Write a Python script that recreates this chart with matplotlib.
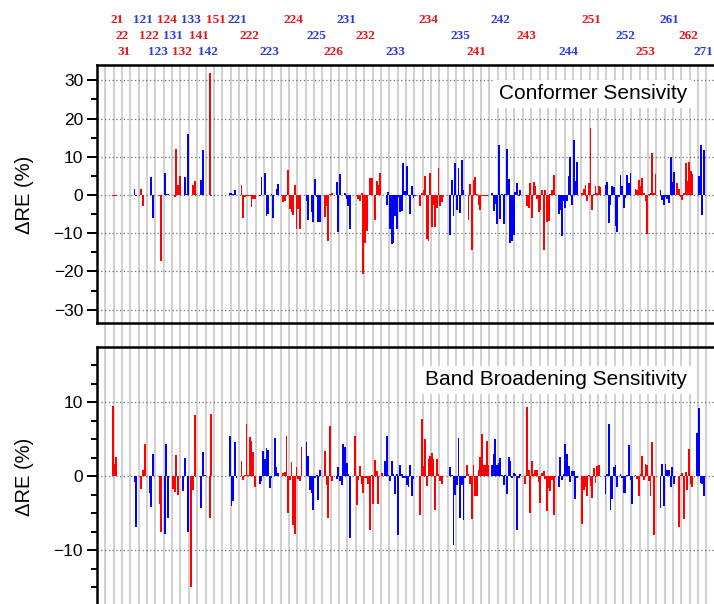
""" Conformer and band broadening sensitivity, two stacked bar panels """

import matplotlib.pyplot as plt
from matplotlib.transforms import blended_transform_factory

plt.rcParams["font.family"] = ["Liberation Sans", "DejaVu Sans"]

RED = "#ff0000"
BLUE = "#0000ff"

# one entry per run of bars of the same colour (21, 22 and 31 share the first run)
run_colors = ["r", "b", "r", "b", "r", "b", "r", "b", "r", "b", "r", "b",
              "r", "b", "r", "b", "r", "b", "r", "b", "r", "b", "r", "b",
              "r", "b", "r", "b", "r", "b", "r", "b"]

conf_start = [9, 22, 26, 32, 37, 40, 46, 52, 57, 62, 67, 79,
              86, 97, 111, 125, 136, 143, 155, 173, 193, 211, 222, 236,
              257, 276, 290, 304, 322, 337, 347, 360]
conf_vals = [
    [-0.2, -0.2, -0.2],
    [1.6, -0.2],
    [1.6, -3.0],
    [4.8, -5.9],
    [-0.3, -17.4],
    [5.8, 0.3, 0.3],
    [-0.5, 12.1, 2.5, 5.0],
    [4.8, 0.2, 15.9],
    [2.7, 3.7, 0.3],
    [4.0, 11.8],
    [31.8, -0.2],
    [0.4, 0.4, 0.3, 1.2],
    [2.7, -6.0, -0.6, -0.3, -0.3, -0.3, -3.2, -1.0, -1.0],
    [-0.3, 4.6, 0.0, 5.8, -5.5, -5.0, 0.0, 0.2, -6.0, 0.0, 1.5, 2.8],
    [-1.8, -1.5, -0.3, 6.6, -3.8, -4.5, -5.2, 2.5, -8.8, -3.8, -8.8],
    [-1.6, -6.5, 0.0, -4.5, -7.0, 4.2, -0.5, -7.2, -7.2],
    [-5.8, -3.0, -12.0, 0.3, 0.5],
    [3.4, -9.6, 5.4, 0.0, 0.0, 0.5, -1.0, -3.0, -8.8],
    [-0.3, -1.0, -1.5, 0.5, -20.8, -12.5, -9.5, 0.0, 4.4, 4.4, 0.0, -6.5,
     3.6, 2.6, 5.8],
    [-2.7, 0.8, -9.0, -12.8, -12.6, -5.5, -8.9, -0.5, -4.5, -4.1, 8.3, 1.0,
     7.5, -0.3, -5.0, 2.4, -0.8, -0.3],
    [-3.0, 0.6, 1.2, 5.0, -11.6, -12.0, 5.8, -8.3, -2.7, -8.5, -3.5, 7.0,
     -3.0, -1.8, -0.5],
    [-10.4, 3.9, -5.5, 8.4, -4.0, 7.1, -4.6, 9.2, 1.2],
    [-6.5, 2.8, -14.5, 3.8, 4.8, 0.3, -2.5, -4.0, -0.2, -0.2, -0.2, -0.2],
    [0.6, -4.3, -2.3, -7.7, 13.2, -6.3, 0.3, -7.5, 0.2, 11.9, 4.1, -12.7,
     -12.0, -10.5, 0.8, 3.2, -0.4, 1.4],
    [-2.8, -3.4, 3.0, -6.0, 3.3, 2.4, -1.0, -4.5, -4.0, 1.2, -14.5, 1.4,
     -7.2, -6.7, 0.2, 1.4, 5.2],
    [-5.0, -4.0, -10.8, -1.5, -3.3, -1.5, 4.9, 9.8, -2.5, 14.5, 3.7, 8.6],
    [0.6, 1.6, 2.5, -1.7, 3.0, 17.4, -4.0, 0.3, 2.3, 0.5, 2.4, 2.2],
    [2.7, 3.5, -7.3, -2.5, 2.4, 2.2, -8.0, -9.8, -0.5, 5.3, 2.4, -3.4,
     -0.8, 5.3, 3.2, 5.8],
    [1.5, 1.2, 3.9, 2.4, 4.4, 0.4, -1.5, -10.2, 0.3, 0.5, 11.0, 0.5, 5.6],
    [1.2, -1.2, -2.5, -0.5, -1.0, -2.2, 9.8, 3.4, 6.0],
    [3.2, 1.6, -0.5, -1.2, 0.5, 8.3, 3.7, 8.5, 6.3, 5.5],
    [5.0, 13.2, -5.3, 11.8],
]

band_start = [9, 22, 26, 31, 37, 40, 45, 51, 56, 62, 67, 79,
              86, 97, 111, 125, 136, 143, 154, 172, 193, 211, 221, 236,
              256, 276, 290, 304, 322, 337, 348, 359]
band_vals = [
    [9.5, 1.7, 2.6],
    [-0.8, -6.9],
    [-1.7, 0.8, 4.4],
    [-2.2, -4.2, 3.0],
    [-3.8, -7.5],
    [-7.8, 4.3, -5.7],
    [-1.7, -2.1, 2.9, -2.5],
    [-2.0, 2.5, 0.0, -7.5],
    [-14.9, -1.8, 8.3],
    [-4.3, 3.3, 0.2],
    [-5.7, 8.4],
    [5.5, -4.0, -3.4, 4.6, -0.3],
    [2.0, -0.5, 0.2, 7.0, 0.2, 5.3, 4.8, 3.3, -1.5],
    [-1.0, -0.6, 3.4, 2.3, 3.8, 3.6, -1.6, -0.2, 0.1, 5.2, 1.3, 0.5],
    [0.4, 0.6, 5.4, -5.0, -0.5, 1.9, -6.6, -7.8, 1.2, -0.4, -0.6, 4.0],
    [4.6, 2.8, -1.8, -2.2, -4.6, -0.3, 0.2, -3.2, 0.8],
    [3.4, -1.2, -5.6, 6.8, -0.7],
    [-0.4, 1.3, -0.6, -1.2, 4.4, 4.0, 1.8, 0.3, -8.3],
    [5.5, -3.9, -0.5, 1.4, -1.1, -2.3, -0.2, -0.2, -1.0, -7.2, 0.2, -3.8,
     2.2, 0.7, -3.8, 0.1, 0.4],
    [2.0, 5.4, 0.2, -0.7, 2.0, 0.3, -2.4, 0.3, -8.0, 1.5, 0.3, -0.2,
     -0.2, -1.2, -1.5, 1.5, -2.6, -0.4],
    [-5.2, 7.8, 1.4, 5.0, -1.3, 2.4, 2.8, 3.1, 2.3, -4.6, 2.4, 0.3, -0.6, -1.0],
    [1.2, 0.2, -9.3, -2.5, -1.2, 5.2, -5.6, -1.2, -5.9, -0.3],
    [1.5, 0.3, -1.0, -5.8, 1.5, -2.6, -2.6, 0.8, 2.6, 5.7, 1.5, 1.5, 4.8, 1.5],
    [1.5, 3.0, 5.0, 1.5, 1.8, 2.5, 0.2, -1.2, 0.2, -2.4, 2.6, 2.0,
     -0.2, 0.4, 0.3, -7.3, -0.3, 0.3],
    [-1.0, 9.4, 0.8, -5.0, 2.0, 0.3, 0.8, 0.8, -0.8, -3.6, 0.5, 0.7,
     -0.4, -4.7, -1.6, -2.0, -0.5, -5.2],
    [-1.4, 2.6, -0.5, 0.3, 4.3, 3.0, 1.4, -0.8, 0.7, 0.7, -3.1, -0.3],
    [-6.4, -1.9, -1.5, -2.6, 0.2, -1.3, -3.0, 1.1, -0.9, 1.4, 1.5],
    [-2.4, 0.3, 7.0, -4.5, -3.1, 1.3, 1.5, -1.4, 0.1, 0.3, -0.2, -2.3,
     -2.2, 0.2, 4.2, -0.5, -3.7],
    [0.2, -0.4, -2.7, 0.3, 2.8, -0.5, 1.6, 1.5, -0.7, -2.6, 4.6, -8.0],
    [-4.3, 1.7, -4.0, 1.7, 0.9, 0.9, -1.4, 1.2, -1.0],
    [-6.9, 0.2, 0.4, -5.8, 0.6, -1.8, 3.7, -1.0, -1.4],
    [5.8, 9.2, -0.9, -1.0, -2.7],
]

group_names = ["21", "22", "31", "121", "122", "123", "124", "131", "132",
               "133", "141", "142", "151", "221", "222", "223", "224", "225",
               "226", "231", "232", "233", "234", "235", "241", "242", "243",
               "244", "251", "252", "253", "261", "262", "271"]
group_colors = ["r", "r", "r", "b", "r", "b", "r", "b", "r", "b", "r", "b",
                "r", "b", "r", "b", "r", "b", "r", "b", "r", "b", "r", "b",
                "r", "b", "r", "b", "r", "b", "r", "b", "r", "b"]
group_label_x = [12.0, 15.0, 16.2, 27.5, 31.1, 36.5, 41.9, 45.5, 50.9, 56.3,
                 61.1, 66.5, 71.3, 84.4, 91.0, 103.0, 117.4, 131.7, 141.3,
                 149.1, 160.5, 179.0, 198.2, 217.4, 227.0, 241.9, 256.9,
                 282.6, 296.4, 316.2, 328.7, 343.1, 353.9, 363.0]
group_label_row = [0, 1, 2, 0, 1, 2, 0, 1, 2, 0, 1, 2, 0, 0, 1, 2, 0, 1, 2,
                   0, 1, 2, 0, 1, 2, 0, 1, 2, 0, 1, 2, 0, 1, 2]

N_SLOTS = 369.5
W, H = 714, 604


def draw_panel(ax, starts, values, ylim, major, minor, title, title_y):
    """Bars, grey channel lines, dotted grid and the boxed title"""
    ax.set_xlim(0, N_SLOTS)
    ax.set_ylim(*ylim)
    for x in range(5, int(N_SLOTS) + 1, 5):
        ax.axvline(x, ymin=-0.1, ymax=1, color="#c8c8c8", lw=1.2,
                   zorder=0, clip_on=False)
    for y in major:
        ax.axhline(y, color="#707070", lw=0.9, ls=(0, (1, 2)), zorder=1)
    for start, vals, c in zip(starts, values, run_colors):
        xs = [start + i + 0.5 for i in range(len(vals))]
        ax.bar(xs, vals, width=1.1, color=RED if c == "r" else BLUE,
               lw=0, zorder=2)
    ax.set_xticks([])
    ax.set_yticks(major)
    ax.set_yticks(minor, minor=True)
    ax.tick_params(axis="y", which="major", direction="out", length=7,
                   width=1.4, labelsize=12.5, pad=3)
    ax.tick_params(axis="y", which="minor", direction="out", length=4,
                   width=1.4)
    for side in ["left", "top", "bottom"]:
        ax.spines[side].set_linewidth(1.8)
    ax.spines["right"].set_visible(False)
    ax.text(0.956, title_y, title, transform=ax.transAxes, ha="right",
            va="center", fontsize=15, zorder=5,
            bbox=dict(facecolor="white", edgecolor="none", pad=3))


fig = plt.figure(figsize=(W / 100, H / 100), dpi=100)
ax1 = fig.add_axes([97 / W, 281 / H, 617 / W, 258 / H])
ax2 = fig.add_axes([97 / W, 0, 617 / W, 257 / H])

draw_panel(ax1, conf_start, conf_vals, (-33.5, 34),
           [-30, -20, -10, 0, 10, 20, 30], list(range(-30, 31, 5)),
           "Conformer Sensivity", 0.888)
draw_panel(ax2, band_start, band_vals, (-17.26, 17.47),
           [-10, 0, 10], [-15, -12.5, -10, -7.5, -5, -2.5, 0, 2.5, 5, 7.5,
                          10, 12.5, 15],
           "Band Broadening Sensitivity", 0.872)
ax2.spines["bottom"].set_visible(False)

fig.text(24 / W, 1 - 195 / H, "\u0394RE (%)", rotation=90, ha="center",
         va="center", fontsize=14.5)
fig.text(24 / W, 1 - 477 / H, "\u0394RE (%)", rotation=90, ha="center",
         va="center", fontsize=14.5)

# group names above the top panel, staggered over three rows
row_y = [1 - 20 / H, 1 - 36 / H, 1 - 52 / H]
trans = blended_transform_factory(ax1.transData, fig.transFigure)
for name, x, row, c in zip(group_names, group_label_x, group_label_row,
                           group_colors):
    ax1.text(x, row_y[row], name, transform=trans, ha="center", va="center",
             fontsize=9.5, fontweight="bold", family="Liberation Serif",
             color="#e8141c" if c == "r" else "#2a3be0", clip_on=False)

plt.savefig("out.png", dpi=100)
